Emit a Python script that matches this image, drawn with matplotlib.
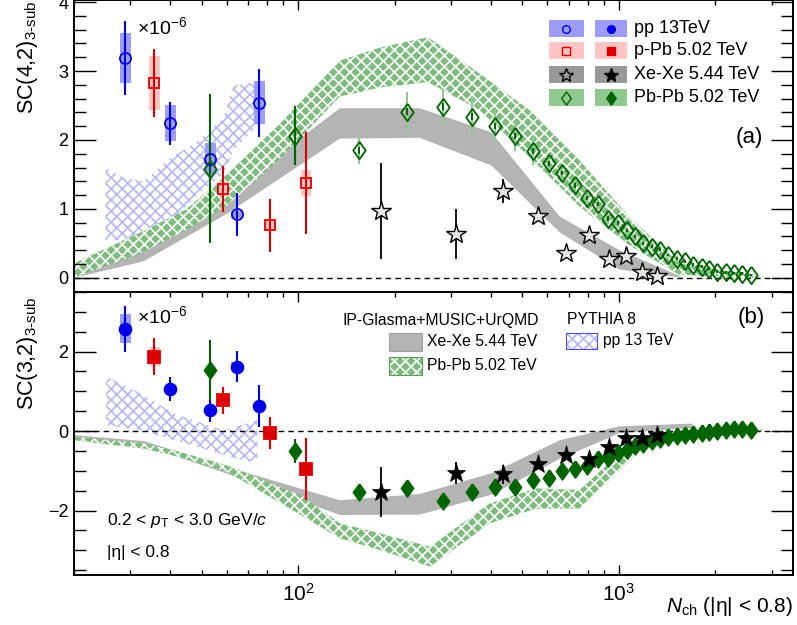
import numpy as np
import matplotlib
import matplotlib.pyplot as plt
from matplotlib.patches import Rectangle
from matplotlib.transforms import Affine2D

plt.rcParams['font.family'] = ['Liberation Sans', 'DejaVu Sans']
plt.rcParams['mathtext.fontset'] = 'custom'
plt.rcParams['mathtext.rm'] = 'Liberation Sans'
plt.rcParams['mathtext.it'] = 'Liberation Sans:italic'
plt.rcParams['hatch.linewidth'] = 1.2

# ---------------- data (units of 1e-6) ----------------
# pp 13 TeV
pp_x = [28.9, 39.9, 53.2, 64.4, 75.7]
pp_sc42 = [3.19, 2.24, 1.73, 0.92, 2.54]
pp_sc42_stat = [0.54, 0.31, 0.29, 0.31, 0.49]
pp_sc42_sys = [0.36, 0.26, 0.22, 0.05, 0.31]
pp_sc32 = [2.58, 1.07, 0.53, 1.62, 0.63]
pp_sc32_stat = [0.58, 0.30, 0.30, 0.39, 0.52]
pp_sc32_sys = [0.36, 0.08, 0.08, 0.12, 0.08]

# p-Pb 5.02 TeV
ppb_x = [35.6, 58.5, 81.9, 105.9]
ppb_sc42 = [2.83, 1.29, 0.76, 1.37]
ppb_sc42_stat = [0.49, 0.33, 0.39, 0.74]
ppb_sc42_sys = [0.39, 0.10, 0.08, 0.19]
ppb_sc32 = [1.87, 0.78, -0.04, -0.96]
ppb_sc32_stat = [0.47, 0.34, 0.40, 0.78]
ppb_sc32_sys = [0.24, 0.10, 0.10, 0.10]

# Xe-Xe 5.44 TeV
xe_x = [181, 310, 436, 561, 684, 808, 933, 1057, 1186, 1313]
xe_sc42 = [0.97, 0.64, 1.26, 0.90, 0.36, 0.62, 0.28, 0.32, 0.09, 0.03]
xe_sc42_stat = [0.69, 0.36, 0.17, 0.07, 0.04, 0.04, 0.03, 0.03, 0.03, 0.03]
xe_sc32 = [-1.54, -1.05, -1.09, -0.83, -0.60, -0.69, -0.41, -0.17, -0.18, -0.09]
xe_sc32_stat = [0.63, 0.28, 0.23, 0.06, 0.05, 0.05, 0.05, 0.05, 0.05, 0.05]

# Pb-Pb 5.02 TeV
pb_x = [53.2, 97.9, 155, 219, 283, 349, 411, 475, 540, 605, 664, 729, 795, 860,
        925, 993, 1059, 1122, 1188, 1267, 1342, 1422, 1517, 1606, 1702, 1815,
        1920, 2034, 2168, 2296, 2433, 2594]
pb_sc42 = [1.58, 2.06, 1.85, 2.41, 2.48, 2.34, 2.20, 2.06, 1.84, 1.66, 1.52, 1.34,
           1.16, 1.07, 0.86, 0.79, 0.69, 0.60, 0.50, 0.45, 0.41, 0.33, 0.28, 0.24,
           0.19, 0.16, 0.13, 0.09, 0.08, 0.07, 0.06, 0.04]
pb_sc42_stat = [1.08, 0.43, 0.05, 0.05, 0.05, 0.05, 0.04, 0.04, 0.04, 0.04, 0.03,
                0.03, 0.03, 0.03, 0.03, 0.03, 0.02, 0.02, 0.02, 0.02, 0.02, 0.02,
                0.02, 0.02, 0.02, 0.02, 0.02, 0.02, 0.02, 0.02, 0.02, 0.02]
pb_sc42_sys = [0.10, 0.10, 0.20, 0.29, 0.26, 0.30, 0.25, 0.22, 0.20, 0.15, 0.12,
               0.10, 0.08, 0.07, 0.06, 0.05, 0.05, 0.04, 0.04, 0.03, 0.03, 0.03,
               0.03, 0.02, 0.02, 0.02, 0.02, 0.02, 0.02, 0.02, 0.02, 0.02]
pb_sc32 = [1.53, -0.49, -1.54, -1.43, -1.75, -1.52, -1.40, -1.41, -1.22, -1.18,
           -1.00, -0.95, -0.88, -0.71, -0.67, -0.55, -0.47, -0.38, -0.33, -0.25,
           -0.21, -0.15, -0.13, -0.10, -0.07, -0.04, -0.02, 0.01, 0.03, 0.05,
           0.06, 0.04]
pb_sc32_stat = [0.75, 0.30, 0.05, 0.05, 0.05, 0.05, 0.04, 0.04, 0.04, 0.04, 0.03,
                0.03, 0.03, 0.03, 0.03, 0.03, 0.02, 0.02, 0.02, 0.02, 0.02, 0.02,
                0.02, 0.02, 0.02, 0.02, 0.02, 0.02, 0.02, 0.02, 0.02, 0.02]
pb_sc32_sys = [0.20, 0.10, 0.06, 0.06, 0.06, 0.05, 0.05, 0.05, 0.05, 0.05, 0.04,
               0.04, 0.04, 0.04, 0.03, 0.03, 0.03, 0.03, 0.03, 0.02, 0.02, 0.02,
               0.02, 0.02, 0.02, 0.02, 0.02, 0.02, 0.02, 0.02, 0.02, 0.02]

# IP-Glasma+MUSIC+UrQMD Xe-Xe band
xe_mod_x = [20, 33, 60, 135, 240, 401, 655, 1007, 1600]
xe_mod42_hi = [0.06, 0.38, 1.22, 2.46, 2.46, 2.11, 0.89, 0.40, 0.0]
xe_mod42_lo = [0.0, 0.24, 0.93, 2.02, 2.03, 1.63, 0.66, 0.12, 0.0]
xe_mod32_x = [20, 33, 60, 135, 240, 401, 655, 1007, 1700]
xe_mod32_hi = [-0.10, -0.25, -0.90, -1.74, -1.58, -1.06, -0.23, 0.12, 0.19]
xe_mod32_lo = [-0.18, -0.36, -1.07, -2.11, -2.10, -1.60, -0.70, -0.05, 0.08]

# IP-Glasma+MUSIC+UrQMD Pb-Pb band
pb_mod_x = [20, 33, 45, 60, 88, 135, 180, 254, 369, 528, 757, 1082, 1549, 2813]
pb_mod42_hi = [0.21, 0.68, 1.00, 1.50, 2.24, 3.15, 3.34, 3.49, 2.96, 2.43, 1.70,
               0.88, 0.21, 0.0]
pb_mod42_lo = [0.0, 0.38, 0.70, 1.05, 1.73, 2.63, 2.76, 2.84, 2.43, 1.75, 1.03,
               0.47, 0.04, 0.0]
pb_mod32_x = [20, 33, 44, 60, 104, 135, 180, 258, 396, 553, 757, 1007, 1160, 1550,
              2800]
pb_mod32_hi = [-0.14, -0.31, -0.55, -0.86, -1.65, -2.32, -2.57, -2.91, -1.82, -1.44,
               -1.48, -0.55, -0.22, -0.05, 0.05]
pb_mod32_lo = [-0.23, -0.44, -0.68, -1.02, -2.15, -2.70, -2.99, -3.41, -2.32, -1.95,
               -1.95, -1.00, -0.50, -0.22, -0.02]

# PYTHIA 8 pp band
py_x = [25.1, 28.5, 33.0, 40.0, 48.3, 58.4, 63.0, 76.0]
py42_hi = [1.60, 1.45, 1.40, 1.74, 1.97, 2.31, 2.79, 2.84]
py42_lo = [0.55, 0.55, 0.55, 0.80, 1.20, 1.50, 1.85, 2.24]
py32_x = [25.2, 32.4, 41.1, 54.7, 58.7, 69.5, 74.7]
py32_hi = [1.37, 0.95, 0.44, 0.10, 0.02, 0.20, 0.28]
py32_lo = [0.15, 0.02, -0.23, -0.52, -0.60, -0.77, -0.73]

# ---------------- styles ----------------
C_PP, C_PP_BOX = '#0000e6', '#9c9cf7'
C_PPB, C_PPB_BOX = '#dd0000', '#ffc4c4'
C_XE, C_XE_BOX = '#000000', '#999999'
C_PB, C_PB_BOX = '#006400', '#8fc98f'
C_GREY = '#b4b4b4'
C_GREEN_HATCH = '#80bc80'
C_PYTHIA = '#b4b8f4'
HATCH = 'xxx'

# diamond a bit wider than matplotlib's thin 'd'
DIAMOND = [(0, 1), (0.72, 0), (0, -1), (-0.72, 0), (0, 1)]

fig = plt.figure(figsize=(7.97, 6.25), dpi=100)
W, H = 797.0, 625.0
L, R = 74, 793
ax1 = fig.add_axes([L / W, 1 - 293 / H, (R - L) / W, 293 / H])
ax2 = fig.add_axes([L / W, 1 - 575 / H, (R - L) / W, (575 - 292) / H])
pix = Affine2D().scale(1 / W, -1 / H).translate(0, 1) + fig.transFigure


def draw_bands(ax, x_xe, xe_lo, xe_hi, x_pb, pb_lo, pb_hi, x_py, py_lo, py_hi):
    ax.fill_between(x_py, py_lo, py_hi, facecolor='none', edgecolor=C_PYTHIA,
                    hatch=HATCH, linewidth=0, zorder=1)
    ax.fill_between(x_pb, pb_lo, pb_hi, facecolor=C_GREEN_HATCH, edgecolor='white',
                    hatch=HATCH, linewidth=0, zorder=1.2)
    ax.fill_between(x_xe, xe_lo, xe_hi, facecolor=C_GREY, edgecolor='none',
                    linewidth=0, zorder=1.1)
    ax.axhline(0, color='black', lw=1.0, ls=(0, (4, 3)), zorder=1.5)


def syst_boxes(ax, x, y, s, color, hw):
    x = np.asarray(x, float)
    y = np.asarray(y, float)
    s = np.asarray(s, float)
    left = x * 10 ** (-hw)
    width = x * (10 ** hw - 10 ** (-hw))
    ax.bar(left, 2 * s, width=width, bottom=y - s, align='edge', color=color,
           linewidth=0, zorder=2)


def points(ax, x, y, stat, color, marker, ms, filled, zo=4):
    ax.errorbar(x, y, yerr=stat, fmt='none', ecolor=color, elinewidth=1.5,
                capsize=0, zorder=3)
    ax.plot(x, y, ls='none', marker=marker, ms=ms, mec=color, mew=1.3,
            mfc=color if filled else 'none', zorder=zo)


# ---------- top panel: SC(4,2) ----------
draw_bands(ax1, xe_mod_x, xe_mod42_lo, xe_mod42_hi, pb_mod_x, pb_mod42_lo,
           pb_mod42_hi, py_x, py42_lo, py42_hi)
syst_boxes(ax1, pp_x, pp_sc42, pp_sc42_sys, C_PP_BOX, 0.017)
syst_boxes(ax1, ppb_x, ppb_sc42, ppb_sc42_sys, C_PPB_BOX, 0.017)
syst_boxes(ax1, pb_x, pb_sc42, pb_sc42_sys, C_PB_BOX, 0.004)
points(ax1, pp_x, pp_sc42, pp_sc42_stat, C_PP, 'o', 8, False)
points(ax1, ppb_x, ppb_sc42, ppb_sc42_stat, C_PPB, 's', 7.5, False)
points(ax1, pb_x, pb_sc42, pb_sc42_stat, C_PB, DIAMOND, 12.5, False)
ax1.errorbar(xe_x, xe_sc42, yerr=xe_sc42_stat, fmt='none', ecolor='black',
             elinewidth=1.3, capsize=0, zorder=3)
ax1.plot(xe_x, xe_sc42, ls='none', marker='*', ms=15, mec='black', mew=1.0,
         mfc='#e4e4e4', zorder=4)

# ---------- bottom panel: SC(3,2) ----------
draw_bands(ax2, xe_mod32_x, xe_mod32_lo, xe_mod32_hi, pb_mod32_x, pb_mod32_lo,
           pb_mod32_hi, py32_x, py32_lo, py32_hi)
syst_boxes(ax2, pp_x, pp_sc32, pp_sc32_sys, C_PP_BOX, 0.017)
syst_boxes(ax2, ppb_x, ppb_sc32, ppb_sc32_sys, C_PPB_BOX, 0.017)
syst_boxes(ax2, pb_x, pb_sc32, pb_sc32_sys, C_PB_BOX, 0.004)
points(ax2, pp_x, pp_sc32, pp_sc32_stat, C_PP, 'o', 8.5, True)
points(ax2, ppb_x, ppb_sc32, ppb_sc32_stat, C_PPB, 's', 8, True)
points(ax2, pb_x, pb_sc32, pb_sc32_stat, C_PB, DIAMOND, 12, True)
ax2.errorbar(xe_x, xe_sc32, yerr=xe_sc32_stat, fmt='none', ecolor='black',
             elinewidth=1.3, capsize=0, zorder=3)
ax2.plot(xe_x, xe_sc32, ls='none', marker='*', ms=14, mec='black', mew=0.5,
         mfc='black', zorder=4)

# ---------- axes cosmetics ----------
for ax in (ax1, ax2):
    ax.set_xscale('log')
    ax.set_xlim(20, 3500)
    ax.set_xticks([100, 1000])
    ax.set_xticks([v * m for m in (10, 100, 1000) for v in range(2, 10)
                   if 20 <= v * m <= 3500], minor=True)
    for s in ax.spines.values():
        s.set_linewidth(1.4)
    ax.tick_params(axis='y', which='major', direction='in', length=16, width=1,
                   left=True, right=True, labelsize=13, pad=4)
    ax.tick_params(axis='y', which='minor', direction='in', length=8.5, width=1,
                   left=True, right=True)
    ax.tick_params(axis='x', which='major', direction='in', length=7, width=1,
                   top=True, labelsize=15, pad=6)
    ax.tick_params(axis='x', which='minor', direction='in', length=3.6, width=1,
                   top=True)

ax1.tick_params(axis='x', which='both', bottom=False, labelbottom=False)
ax1.set_ylim(-0.22, 4.03)
ax1.set_yticks([0, 1, 2, 3, 4])
ax1.set_yticks(np.arange(-0.2, 4.01, 0.2), minor=True)

ax2.set_ylim(-3.62, 3.5)
ax2.set_yticks([-2, 0, 2])
ax2.set_yticks(np.arange(-3.5, 3.51, 0.5), minor=True)
ax2.set_yticklabels(['\u22122', '0', '2'])
ax2.set_xticklabels([r'$10^2$', r'$10^3$'])
ax2.xaxis.set_minor_formatter(matplotlib.ticker.NullFormatter())

# ---------- texts ----------
fig.text(28 / W, 1 - 57 / H, r'SC(4,2)$_{\mathrm{3\text{-}sub}}$', rotation=90,
         ha='center', va='center', fontsize=15.5)
fig.text(28 / W, 1 - 353 / H, r'SC(3,2)$_{\mathrm{3\text{-}sub}}$', rotation=90,
         ha='center', va='center', fontsize=15.5)
fig.text(793 / W, 1 - 606 / H, r'$N_{\mathrm{ch}}$ (|η| < 0.8)', ha='right',
         va='center', fontsize=15)
fig.text(137 / W, 1 - 27 / H, r'$\times$10$^{-6}$', ha='left', va='center',
         fontsize=14)
fig.text(137 / W, 1 - 316 / H, r'$\times$10$^{-6}$', ha='left', va='center',
         fontsize=14)
fig.text(749 / W, 1 - 137 / H, '(a)', ha='center', va='center', fontsize=16)
fig.text(751 / W, 1 - 317 / H, '(b)', ha='center', va='center', fontsize=16)
fig.text(107 / W, 1 - 521 / H, r'0.2 < $p_{\mathrm{T}}$ < 3.0 GeV/$c$', ha='left',
         va='center', fontsize=12.5)
fig.text(107 / W, 1 - 553 / H, '|η| < 0.8', ha='left', va='center', fontsize=12.5)

# ---------- top legend (data) ----------
leg_rows = [
    ('pp 13TeV', C_PP, C_PP_BOX, 'o', 5.5),
    ('p-Pb 5.02 TeV', C_PPB, C_PPB_BOX, 's', 5.5),
    ('Xe-Xe 5.44 TeV', C_XE, C_XE_BOX, '*', 10),
    ('Pb-Pb 5.02 TeV', C_PB, C_PB_BOX, DIAMOND, 9.5),
]
row_top = [20, 42, 66, 89]
for (lab, c, cb, mk, ms), yt in zip(leg_rows, row_top):
    yc = yt + 8.5
    for x0, x1, filled in ((549, 584, False), (595, 627, True)):
        fig.patches.append(Rectangle((x0, yt), x1 - x0, 17, transform=pix,
                                     facecolor=cb, edgecolor='none'))
        fig.lines.append(matplotlib.lines.Line2D(
            [(x0 + x1) / 2], [yc], transform=pix, marker=mk, ms=ms, mec=c,
            mfc=c if filled else 'none', mew=1.0, ls='none'))
    fig.text(634 / W, 1 - yc / H, lab, ha='left', va='center', fontsize=13)

# ---------- bottom legend (models) ----------
fig.text(342 / W, 1 - 320 / H, 'IP-Glasma+MUSIC+UrQMD', ha='left', va='center',
         fontsize=11.3)
fig.patches.append(Rectangle((389, 333), 33, 18, transform=pix,
                             facecolor=C_GREY, edgecolor='#a0a0a0', lw=0.8))
fig.text(427 / W, 1 - 342 / H, 'Xe-Xe 5.44 TeV', ha='left', va='center',
         fontsize=11.3)
fig.patches.append(Rectangle((389, 357), 33, 18, transform=pix,
                             facecolor=C_GREEN_HATCH, edgecolor='white',
                             hatch=HATCH, lw=0))
fig.patches.append(Rectangle((389, 357), 33, 18, transform=pix,
                             facecolor='none', edgecolor='#5a9e5a', lw=0.8))
fig.text(427 / W, 1 - 366 / H, 'Pb-Pb 5.02 TeV', ha='left', va='center',
         fontsize=11.3)
fig.text(567 / W, 1 - 320 / H, 'PYTHIA 8', ha='left', va='center', fontsize=11.3)
fig.patches.append(Rectangle((566, 333), 31, 16, transform=pix,
                             facecolor='white', edgecolor=C_PYTHIA,
                             hatch=HATCH, lw=0))
fig.patches.append(Rectangle((566, 333), 31, 16, transform=pix,
                             facecolor='none', edgecolor='#4a4ae6', lw=0.8))
fig.text(603 / W, 1 - 341 / H, 'pp 13 TeV', ha='left', va='center',
         fontsize=11.3)

fig.savefig('out.png', dpi=100)
